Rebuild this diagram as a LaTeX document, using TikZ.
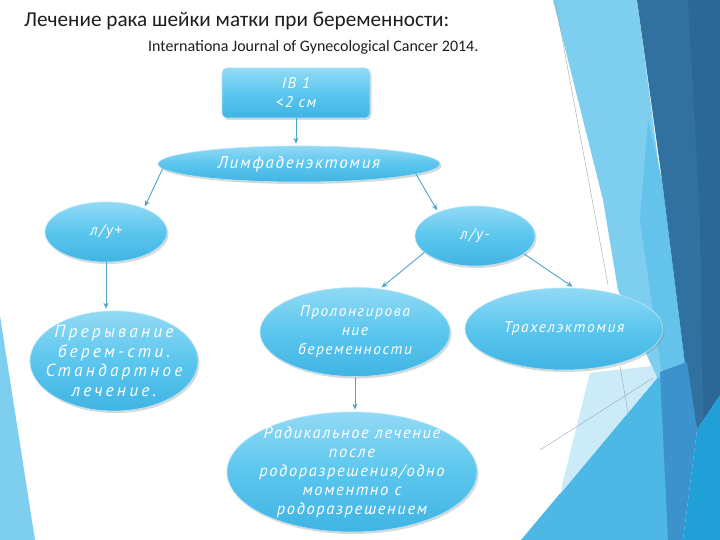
\documentclass[tikz,border=0pt]{standalone}
\usepackage{fontspec}
\setmainfont{Carlito}
\newfontfamily\cursivesans[LetterSpace=10]{PT Sans}
\newfontfamily\widecursive[LetterSpace=18]{PT Sans}
\usetikzlibrary{positioning,shapes.geometric,shadows,arrows.meta}
\definecolor{ink}{HTML}{1E1E1E}
\definecolor{skytop}{HTML}{92DAF5}
\definecolor{skymid}{HTML}{5BC6EE}
\definecolor{skybot}{HTML}{40B4E3}
\definecolor{linkteal}{HTML}{4EA4C9}
\definecolor{facetlight}{HTML}{7ECEEF}
\definecolor{facetsoft}{HTML}{64C3EA}
\definecolor{facetpale}{HTML}{CBEBF8}
\definecolor{facetmid}{HTML}{4DB8E6}
\definecolor{facetblue}{HTML}{3C92CC}
\definecolor{facetbright}{HTML}{21A0D8}
\definecolor{facetdark}{HTML}{31719F}
\definecolor{facetdarker}{HTML}{2B6797}
\definecolor{rulegrey}{HTML}{9AA8B2}

\begin{document}
\begin{tikzpicture}[x=1pt, y=-1pt,
    heading/.style={anchor=west, inner sep=0pt, text=ink, font=\fontsize{21.2}{25}\selectfont},
    source/.style={anchor=west, inner sep=0pt, text=ink, font=\fontsize{16}{19}\selectfont},
    bubble/.style={ellipse, inner sep=-20pt, align=center, text=white,
      top color=skytop, bottom color=skybot, middle color=skymid,
      draw=white!55!skymid, line width=0.6pt,
      drop shadow={opacity=0.3, shadow xshift=1.5pt, shadow yshift=-2pt},
      font=\cursivesans\itshape\fontsize{15.5}{19}\selectfont},
    tile/.style={bubble, rectangle, rounded corners=5pt, inner sep=0pt},
    link/.style={draw=linkteal, line width=0.9pt, -{Stealth[length=6pt,width=5pt]}, shorten >=2pt},
    rule/.style={draw=rulegrey, line width=0.4pt}]
  \useasboundingbox (0,0) rectangle (720,540);
  \fill[white] (0,0) rectangle (720,540);
  % facets of the slide theme
  \fill[facetlight] (553,0) -- (637,0) -- (687,380) -- (657,378) -- (618,290) -- (603,200) -- cycle;
  \fill[facetsoft] (648,120) -- (662,180) -- (687,380) -- (662,374) -- (640,220) -- cycle;
  \fill[facetdark] (637,0) -- (720,0) -- (720,395) -- (697,430) -- (687,380) -- (662,180) -- cycle;
  \fill[facetdarker] (688,0) -- (720,0) -- (720,395) -- (703,420) -- (700,220) -- cycle;
  \fill[facetmid] (521,540) -- (657,378) -- (668,376) -- (676,540) -- cycle;
  \fill[facetblue] (660,372) -- (687,362) -- (697,430) -- (683,540) -- (668,540) -- cycle;
  \fill[facetbright] (720,395) -- (720,540) -- (683,540) -- (697,430) -- cycle;
  \fill[facetpale] (590,373) -- (652,366) -- (657,378) -- (560,494) -- cycle;
  \fill[facetlight] (0,316) -- (35,540) -- (0,540) -- cycle;
  \draw[rule] (555,0) -- (608,285);
  \draw[rule] (620,366) -- (628,413);
  \draw[rule] (540,450) -- (653,378);

  \node[heading] (title) at (24,21) {Лечение рака шейки матки при беременности:};
  \node[source] (journal) at (148,47) {Internationa Journal of Gynecological Cancer 2014.};

  \node[tile, minimum width=148pt, minimum height=50pt] (stage) at (296,93) {IB 1\\<2 см};
  \node[bubble, minimum width=282pt, minimum height=36pt,
    font=\cursivesans\itshape\fontsize{17}{19}\selectfont] (lymph) at (299,164) {Лимфаденэктомия};
  \node[bubble, minimum width=122pt, minimum height=60pt] (lnpos) at (106,232) {л/у+};
  \node[bubble, minimum width=120pt, minimum height=60pt] (lnneg) at (475,236) {л/у-};
  \node[bubble, minimum width=168pt, minimum height=100pt,
    font=\widecursive\itshape\fontsize{17.5}{19.5}\selectfont] (abort) at (114,361) {Прерывание\\берем-сти.\\Стандартное\\лечение.};
  \node[bubble, minimum width=190pt, minimum height=89pt] (prolong) at (355,332) {Пролонгирова\\ние\\беременности};
  \node[bubble, minimum width=198pt, minimum height=82pt] (trach) at (564,329) {Трахелэктомия};
  \node[bubble, minimum width=250pt, minimum height=120pt,
    font=\cursivesans\itshape\fontsize{16.5}{19}\selectfont] (radical) at (352,472) {Радикальное лечение\\после\\родоразрешения/одно\\моментно с\\родоразрешением};

  \draw[link] (stage.south) -- (stage.south |- lymph.north);
  \draw[link] (lymph.182) -- (lnpos.32);
  \draw[link] (lymph.355) -- (lnneg.147);
  \draw[link] (lnpos.south) -- (lnpos.south |- abort.north);
  \draw[link] (lnneg.198) -- (prolong.60);
  \draw[link] (lnneg.340) -- (trach.76);
  \draw[link] (prolong.south) -- (prolong.south |- radical.north);
\end{tikzpicture}
\end{document}
